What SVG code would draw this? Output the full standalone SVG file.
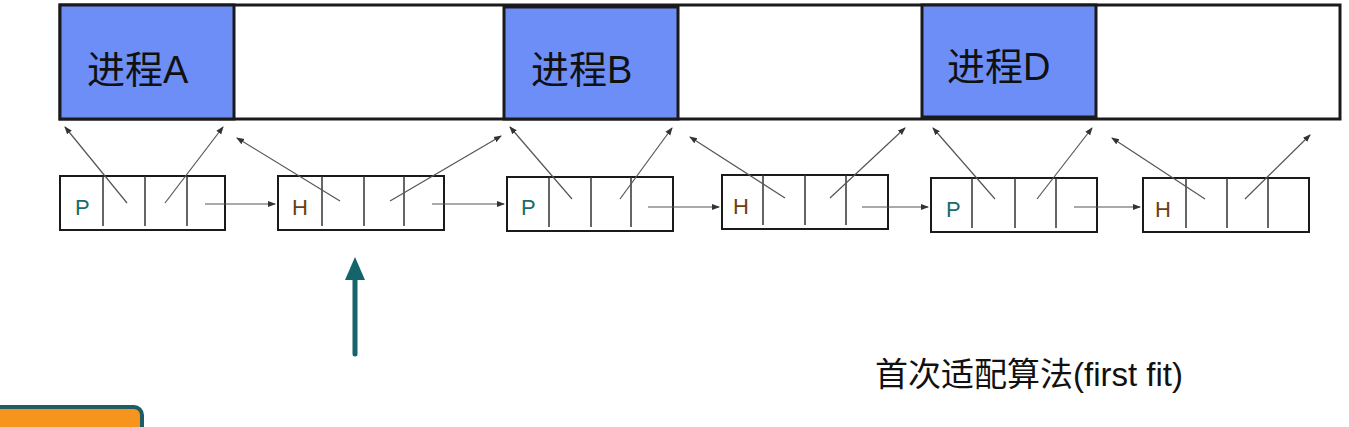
<svg xmlns="http://www.w3.org/2000/svg" width="1349" height="427" viewBox="0 0 1349 427">
<defs>
<style>
.blk{fill:#6e8ef7;stroke:#1a1a1a;stroke-width:3}
.mem{fill:#fff;stroke:#1a1a1a;stroke-width:3}
.nd{fill:#fff;stroke:#1a1a1a;stroke-width:2}
.dv{stroke:#333;stroke-width:1.5}
.ln{stroke:#555;stroke-width:1.2;fill:none}
.big{font-family:"Liberation Sans","Noto Sans CJK SC",sans-serif;font-size:38px;fill:#111}
.p{font-family:"Liberation Sans",sans-serif;font-size:22px;fill:#1a6b6b}
.h{font-family:"Liberation Sans",sans-serif;font-size:22px;fill:#6b3f10}
</style>
<marker id="a" markerWidth="8" markerHeight="8" refX="7" refY="4" orient="auto" markerUnits="userSpaceOnUse"><path d="M0,1 L8,4 L0,7 z" fill="#333"/></marker>
<marker id="t" markerWidth="24" markerHeight="24" refX="12" refY="2" orient="auto-start-reverse" markerUnits="userSpaceOnUse"><path d="M0,0 L12,0 L6,0 z" fill="none"/></marker>
</defs>
<g id="memory">
<rect class="mem" x="60" y="5" width="1280" height="114"/>
<g id="procA"><rect class="blk" x="60" y="5" width="174" height="114"/><text class="big" x="87" y="83">进程A</text></g>
<g id="procB"><rect class="blk" x="504" y="7" width="174" height="112"/><text class="big" x="531" y="83">进程B</text></g>
<g id="procD"><rect class="blk" x="922" y="5" width="174" height="112"/><text class="big" x="947" y="80">进程D</text></g>
</g>
<g id="n1"><rect class="nd" x="60" y="176" width="165" height="54"/><line class="dv" x1="103" y1="176" x2="103" y2="226"/><line class="dv" x1="145" y1="176" x2="145" y2="226"/><line class="dv" x1="187" y1="176" x2="187" y2="226"/><text class="p" x="75" y="215">P</text></g>
<g id="n2"><rect class="nd" x="278" y="176" width="166" height="54"/><line class="dv" x1="322" y1="176" x2="322" y2="226"/><line class="dv" x1="364" y1="176" x2="364" y2="226"/><line class="dv" x1="404" y1="176" x2="404" y2="226"/><text class="h" x="292" y="215">H</text></g>
<g id="n3"><rect class="nd" x="507" y="177" width="166" height="54"/><line class="dv" x1="549" y1="177" x2="549" y2="227"/><line class="dv" x1="591" y1="177" x2="591" y2="227"/><line class="dv" x1="631" y1="177" x2="631" y2="227"/><text class="p" x="521" y="215">P</text></g>
<g id="n4"><rect class="nd" x="722" y="175" width="166" height="54"/><line class="dv" x1="763" y1="175" x2="763" y2="225"/><line class="dv" x1="805" y1="175" x2="805" y2="225"/><line class="dv" x1="846" y1="175" x2="846" y2="225"/><text class="h" x="733" y="214">H</text></g>
<g id="n5"><rect class="nd" x="931" y="178" width="166" height="54"/><line class="dv" x1="972" y1="178" x2="972" y2="228"/><line class="dv" x1="1015" y1="178" x2="1015" y2="228"/><line class="dv" x1="1056" y1="178" x2="1056" y2="228"/><text class="p" x="946" y="217">P</text></g>
<g id="n6"><rect class="nd" x="1143" y="178" width="166" height="54"/><line class="dv" x1="1186" y1="178" x2="1186" y2="228"/><line class="dv" x1="1227" y1="178" x2="1227" y2="228"/><line class="dv" x1="1268" y1="178" x2="1268" y2="228"/><text class="h" x="1155" y="217">H</text></g>
<g id="connectors" marker-end="url(#a)">
<line class="ln" x1="127" y1="203" x2="65" y2="127"/>
<line class="ln" x1="165" y1="203" x2="223" y2="127"/>
<line class="ln" x1="340" y1="201" x2="237" y2="138"/>
<line class="ln" x1="390" y1="201" x2="501" y2="136"/>
<line class="ln" x1="572" y1="199" x2="510" y2="127"/>
<line class="ln" x1="620" y1="199" x2="672" y2="128"/>
<line class="ln" x1="785" y1="198" x2="690" y2="137"/>
<line class="ln" x1="830" y1="198" x2="905" y2="128"/>
<line class="ln" x1="995" y1="199" x2="933" y2="128"/>
<line class="ln" x1="1037" y1="199" x2="1092" y2="128"/>
<line class="ln" x1="1205" y1="199" x2="1112" y2="138"/>
<line class="ln" x1="1245" y1="199" x2="1310" y2="135"/>
<line class="ln" x1="205" y1="204" x2="275" y2="204"/>
<line class="ln" x1="432" y1="204" x2="504" y2="204"/>
<line class="ln" x1="648" y1="207" x2="719" y2="207"/>
<line class="ln" x1="862" y1="207" x2="928" y2="207"/>
<line class="ln" x1="1074" y1="207" x2="1140" y2="207"/>
</g>
<g id="pointer">
<line x1="355" y1="354" x2="355" y2="275" stroke="#15636b" stroke-width="5" stroke-linecap="round"/>
<path d="M345,280 L355,257 L365,280 z" fill="#15636b"/>
</g>
<rect id="btn" x="-10" y="407" width="152" height="40" rx="8" fill="#f7941d" stroke="#1f5c63" stroke-width="4"/>
<text id="title" x="875" y="386" font-family="Liberation Sans,'Noto Sans CJK SC',sans-serif" font-size="33" fill="#111">首次适配算法(first fit)</text>
</svg>
